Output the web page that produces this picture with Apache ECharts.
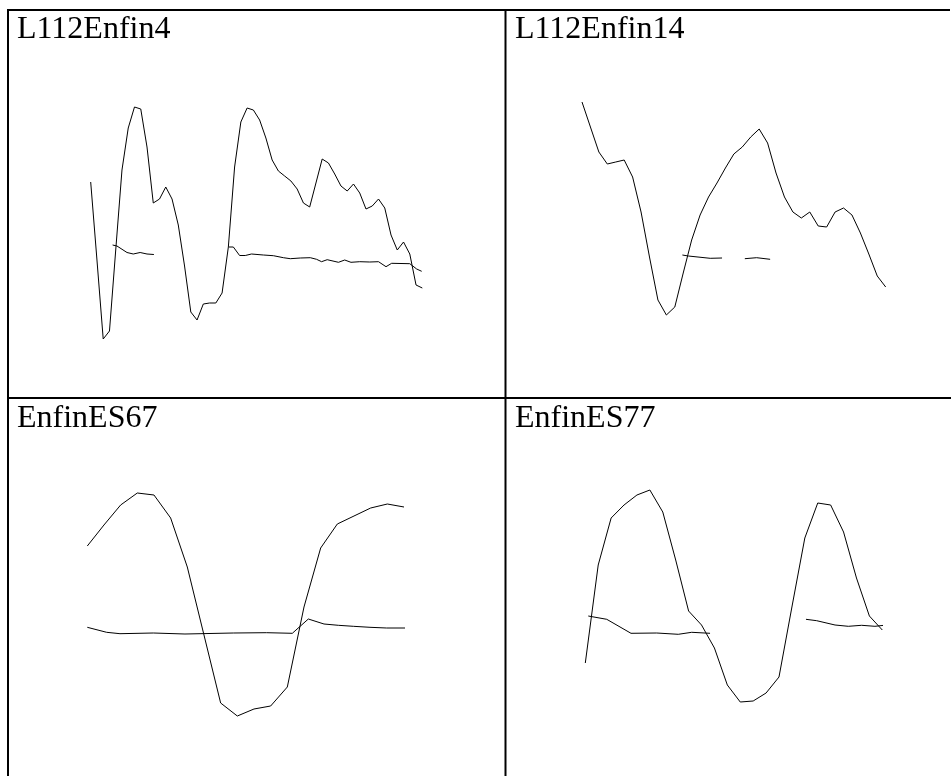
<!DOCTYPE html>
<html>
<head>
<meta charset="utf-8">
<script src="https://cdn.jsdelivr.net/npm/echarts@6/dist/echarts.min.js"></script>
<style>
html,body{margin:0;padding:0;background:#fff;}
#c{width:951px;height:776px;}
</style>
</head>
<body>
<div id="c"></div>
<script>
// ---- Data ----
const titles = ['L112Enfin4', 'L112Enfin14', 'EnfinES67', 'EnfinES77'];

// Panel 1: L112Enfin4 — main waveform (one value per frame)
const p1Wave = [168, 90, 11, 19, 100, 180, 222, 243, 241, 203, 147, 151, 163, 151, 125, 84,
  38, 30, 46, 47, 47, 57, 103, 183, 228, 242, 240, 230, 212, 190, 179, 174, 169, 161, 147, 143,
  167, 191, 187, 176, 164, 159, 166, 157, 141, 144, 151, 142, 115, 100, 108, 96, 65, 62];
// Panel 1: secondary (flat) track, two voiced segments
const p1FlatT1 = [3.5, 4.2, 5.8, 6.8, 7.9, 9.0, 10.1];
const p1FlatV1 = [105, 104, 97.5, 96, 97.5, 96, 95.5];
const p1FlatT2 = [22.1, 22.8, 23.8, 24.7, 25.7, 27.6, 29.2, 30.8, 31.9, 33.5, 35.1, 36.1, 36.9,
  37.8, 39.6, 40.6, 41.6, 43.0, 44.6, 46.0, 47.2, 48.1, 51.0, 52.1, 52.9];
const p1FlatV2 = [103, 103, 94.5, 94.5, 96, 95, 94.3, 92.3, 91.3, 92, 92.3, 90.7, 88.3,
  90.3, 87.7, 90, 87.7, 88.3, 88, 88.3, 83.3, 86.7, 86.3, 81, 78.7];

// Panel 2: L112Enfin14
const p2Wave = [248, 223, 198, 186, 188, 190, 173, 138, 93, 50, 35, 43, 77, 110, 135, 153, 167,
  182, 196, 203, 213, 221, 207, 177, 153, 138, 132, 138, 124, 123, 138, 142, 135, 117, 96, 74, 63];
const p2FlatT1 = [11.9, 12.6, 15.2, 16.6];
const p2FlatV1 = [95, 94, 91.7, 92];
const p2FlatT2 = [19.3, 20.7, 22.3];
const p2FlatV2 = [91.3, 92.3, 90.7];

// Panel 3: EnfinES67
const p3Wave = [194, 215, 235, 247, 245, 222, 173, 105, 37, 24, 31, 34, 53, 133, 192, 216, 224,
  232, 236, 233];
const p3FlatT1 = [0, 1.16, 1.96, 3.96, 5.86, 8.76, 10.76, 12.3, 13.26, 14.2, 15.06, 15.96, 16.96,
  17.96, 19.06];
const p3FlatV1 = [112.7, 107.7, 106.3, 107, 106, 107, 107.3, 106.7, 121, 116, 114.7, 113.7, 112.7,
  112, 112];

// Panel 4: EnfinES77
const p4Wave = [77, 175, 222, 235, 245, 250, 228, 180, 129, 115, 92, 55, 38, 39, 47, 63, 133, 202,
  237, 235, 208, 162, 124, 110];
const p4FlatT1 = [0.23, 1.66, 3.54, 5.53, 7.2, 8.24, 9.66];
const p4FlatV1 = [124, 120.7, 106.7, 107, 105.7, 107.7, 106.7];
const p4FlatT2 = [17.09, 17.92, 19.34, 20.37, 21.4, 22.43, 23.34];
const p4FlatV2 = [120.7, 119.3, 115, 113.7, 114.7, 113.7, 115];

// ---- Build chart ----
const panels = [
  { wave: p1Wave, flats: [[p1FlatT1, p1FlatV1], [p1FlatT2, p1FlatV2]] },
  { wave: p2Wave, flats: [[p2FlatT1, p2FlatV1], [p2FlatT2, p2FlatV2]] },
  { wave: p3Wave, flats: [[p3FlatT1, p3FlatV1]] },
  { wave: p4Wave, flats: [[p4FlatT1, p4FlatV1], [p4FlatT2, p4FlatV2]] }
];
const gridPos = [
  { left: 90.7, width: 331.6, top: 100, height: 250 },
  { left: 582, width: 303.7, top: 100, height: 250 },
  { left: 87.3, width: 316.7, top: 490, height: 250 },
  { left: 585.3, width: 297, top: 490, height: 250 }
];
const titlePos = [[17, 14], [515, 14], [17, 403], [515, 403]];

const grid = [], xAxis = [], yAxis = [], series = [];
panels.forEach((p, i) => {
  grid.push(Object.assign({ containLabel: false }, gridPos[i]));
  xAxis.push({ type: 'value', gridIndex: i, min: 0, max: p.wave.length - 1, show: false });
  yAxis.push({ type: 'value', gridIndex: i, min: 0, max: 250, show: false });
  const lineStyle = { color: '#000', width: 1 };
  series.push({
    type: 'line', xAxisIndex: i, yAxisIndex: i, showSymbol: false, clip: false,
    lineStyle, data: p.wave.map((v, k) => [k, v])
  });
  p.flats.forEach(([ts, vs]) => {
    series.push({
      type: 'line', xAxisIndex: i, yAxisIndex: i, showSymbol: false, clip: false,
      lineStyle, data: ts.map((t, k) => [t, vs[k]])
    });
  });
});

const border = { stroke: '#000', lineWidth: 2 };
const graphic = [
  { type: 'line', shape: { x1: 7, y1: 10, x2: 950, y2: 10 }, style: border },
  { type: 'line', shape: { x1: 7, y1: 398, x2: 951, y2: 398 }, style: border },
  { type: 'line', shape: { x1: 8, y1: 9, x2: 8, y2: 776 }, style: border },
  { type: 'line', shape: { x1: 505.5, y1: 9, x2: 505.5, y2: 776 }, style: border }
];
titles.forEach((t, i) => {
  graphic.push({
    type: 'text', left: titlePos[i][0], top: titlePos[i][1],
    style: { text: t, fill: '#000', font: '32px "Liberation Serif"' }
  });
});

const chart = echarts.init(document.getElementById('c'), null, { renderer: 'canvas' });
chart.setOption({
  animation: false,
  backgroundColor: '#fff',
  grid, xAxis, yAxis, series, graphic
});
</script>
</body>
</html>
